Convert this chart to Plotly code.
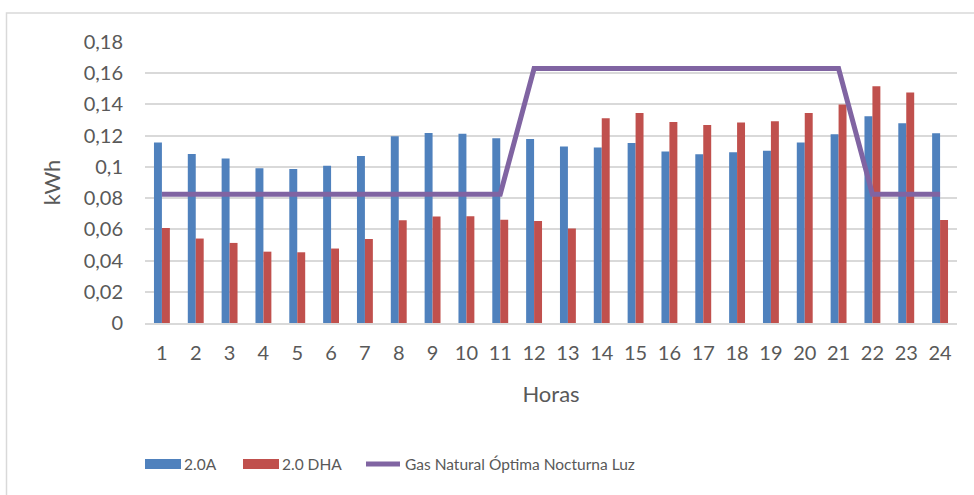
import plotly.graph_objects as go

# ── data ──
HOURS = [str(h) for h in range(1, 25)]

TARIFF_20A = [0.1157, 0.1083, 0.1053, 0.0991, 0.0987, 0.1008, 0.1070, 0.1196,
              0.1217, 0.1213, 0.1183, 0.1179, 0.1130, 0.1124, 0.1153, 0.1098,
              0.1081, 0.1094, 0.1104, 0.1156, 0.1209, 0.1324, 0.1279, 0.1215]

TARIFF_20DHA = [0.0609, 0.0541, 0.0513, 0.0457, 0.0453, 0.0477, 0.0538, 0.0658,
                0.0682, 0.0684, 0.0662, 0.0653, 0.0605, 0.1311, 0.1345, 0.1288,
                0.1269, 0.1284, 0.1292, 0.1345, 0.1399, 0.1516, 0.1476, 0.0660]

GAS_NATURAL = [0.0825] * 11 + [0.163] * 10 + [0.0825] * 3

SERIES_NAMES = ["2.0A", "2.0 DHA", "Gas Natural Óptima Nocturna Luz"]

Y_TICKS = [0, 0.02, 0.04, 0.06, 0.08, 0.10, 0.12, 0.14, 0.16, 0.18]
Y_TICK_TEXT = ["0", "0,02", "0,04", "0,06", "0,08", "0,1", "0,12", "0,14", "0,16", "0,18"]

BLUE = "#4F81BD"
RED = "#C0504D"
PURPLE = "#8064A2"
GRID = "#D9D9D9"
TEXT = "#595959"
FONT = "Lato, Open Sans, sans-serif"

W, H = 974, 495
L, R, T, B = 145, 17, 42, 172
PW, PH = W - L - R, H - T - B


def px_x(x):
    """Screen x (px) -> paper coordinate."""
    return (x - L) / PW


def px_y(y):
    """Screen y (px, from top) -> paper coordinate."""
    return (H - B - y) / PH


fig = go.Figure()
fig.add_trace(go.Bar(x=HOURS, y=TARIFF_20A, name=SERIES_NAMES[0],
                     marker=dict(color=BLUE, line=dict(width=0))))
fig.add_trace(go.Bar(x=HOURS, y=TARIFF_20DHA, name=SERIES_NAMES[1],
                     marker=dict(color=RED, line=dict(width=0))))
fig.add_trace(go.Scatter(x=HOURS, y=GAS_NATURAL, name=SERIES_NAMES[2],
                         mode="lines", line=dict(color=PURPLE, width=5)))

# chart-area border (Excel style), cropped at right/bottom
fig.add_shape(type="rect", xref="paper", yref="paper",
              x0=px_x(6.5), x1=px_x(1100), y0=px_y(700), y1=px_y(13),
              line=dict(color=GRID, width=1.5), layer="below")

# Excel-style legend drawn by hand (wide swatches)
legend_y = 464
swatches = [
    (145, 181, BLUE, "rect"),
    (243, 279, RED, "rect"),
    (364, 402, PURPLE, "line"),
]
for (x0, x1, color, kind), name in zip(swatches, SERIES_NAMES):
    if kind == "rect":
        fig.add_shape(type="rect", xref="paper", yref="paper",
                      x0=px_x(x0), x1=px_x(x1), y0=px_y(legend_y + 5), y1=px_y(legend_y - 5),
                      fillcolor=color, line=dict(width=0))
    else:
        fig.add_shape(type="line", xref="paper", yref="paper",
                      x0=px_x(x0 + 2), x1=px_x(x1 - 2), y0=px_y(legend_y), y1=px_y(legend_y),
                      line=dict(color=color, width=5))
    fig.add_annotation(xref="paper", yref="paper", x=px_x(x1 + 1), y=px_y(legend_y),
                       xanchor="left", yanchor="middle", showarrow=False, text=name,
                       font=dict(family=FONT, size=15.5, color=TEXT))

fig.update_layout(
    width=W, height=H,
    margin=dict(l=L, r=R, t=T, b=B),
    paper_bgcolor="white", plot_bgcolor="white",
    font=dict(family=FONT, size=20, color=TEXT),
    barmode="group", bargap=0.53, bargroupgap=0,
    showlegend=False,
    xaxis=dict(
        showgrid=False, showline=True, linecolor=GRID, linewidth=1.5,
        ticks="", tickfont=dict(size=20, color=TEXT), ticklabelstandoff=11,
        title=dict(text="Horas", font=dict(size=22, color=TEXT), standoff=24),
    ),
    yaxis=dict(
        range=[0, 0.18], tickvals=Y_TICKS, ticktext=Y_TICK_TEXT,
        showgrid=True, gridcolor=GRID, gridwidth=1.5, zeroline=False,
        tickfont=dict(size=20, color=TEXT), ticks="", ticklabelstandoff=21,
        title=dict(text="kWh", font=dict(size=22, color=TEXT), standoff=16),
    ),
)

fig.write_html("out.html", config={"displayModeBar": False},
               post_script="document.body.style.margin='0';")
